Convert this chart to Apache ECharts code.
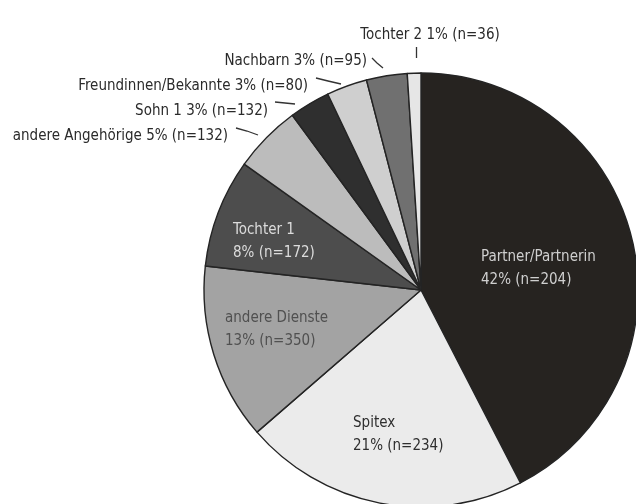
<!DOCTYPE html>
<html>
<head>
<meta charset="utf-8">
<script src="https://cdn.jsdelivr.net/npm/echarts@6/dist/echarts.min.js"></script>
<style>
  html,body{margin:0;padding:0;background:#fff;}
  #chart{width:636px;height:504px;}
</style>
</head>
<body>
<div id="chart"></div>
<script>
// Kategorien und Werte (Prozent), im Uhrzeigersinn ab 12 Uhr
var names = ['Partner/Partnerin', 'Spitex', 'andere Dienste', 'Tochter 1', 'andere Angehörige', 'Sohn 1', 'Freundinnen/Bekannte', 'Nachbarn', 'Tochter 2'];
var percents = [42, 21, 13, 8, 5, 3, 3, 3, 1];
var counts = [204, 234, 350, 172, 132, 132, 80, 95, 36];
var colors = ['#262320', '#ebebeb', '#a3a3a3', '#4d4d4d', '#bcbcbc', '#2f2f2f', '#cfcfcf', '#707070', '#e6e6e6'];

// Beschriftungen: innen zweizeilig, aussen einzeilig
var inside = [true, true, true, true, false, false, false, false, false];
var labelColors = ['#cfcfcf', '#2e2e2e', '#505050', '#dcdcdc', '#2a2a2a', '#2a2a2a', '#2a2a2a', '#2a2a2a', '#2a2a2a'];

// Lage der Beschriftungen (Pixel)
var labelPos = [
  {x: 481, y: 246, align: 'left'},
  {x: 353, y: 412, align: 'left'},
  {x: 225, y: 307, align: 'left'},
  {x: 233, y: 219, align: 'left'},
  {x: 228, y: 125, align: 'right', line: [[236, 128], [247, 131], [258, 135]]},
  {x: 268, y: 100, align: 'right', line: [[275, 102], [285, 103], [295, 104]]},
  {x: 308, y: 75, align: 'right', line: [[316, 78], [328, 81], [341, 84]]},
  {x: 367, y: 50, align: 'right', line: [[372, 58], [377, 63], [383, 68]]},
  {x: 430, y: 24, align: 'center', line: [[416.5, 47], [416.5, 52], [416.5, 58]]}
];

var data = [];
for (var i = 0; i < names.length; i++) {
  var txt = inside[i]
    ? names[i] + '\n' + percents[i] + '% (n=' + counts[i] + ')'
    : names[i] + ' ' + percents[i] + '% (n=' + counts[i] + ')';
  data.push({
    name: names[i],
    value: percents[i],
    itemStyle: {color: colors[i]},
    label: {
      formatter: txt,
      color: labelColors[i],
      align: labelPos[i].align
    },
    labelLine: {show: !inside[i]}
  });
}

var chart = echarts.init(document.getElementById('chart'), null, {renderer: 'canvas'});
chart.setOption({
  backgroundColor: '#fff',
  animation: false,
  series: [{
    type: 'pie',
    center: [421, 290],
    radius: 217,
    startAngle: 90,
    clockwise: true,
    avoidLabelOverlap: false,
    data: data,
    itemStyle: {borderColor: '#242424', borderWidth: 1.4},
    label: {
      show: true,
      position: 'outside',
      fontFamily: 'DejaVu Sans Condensed',
      fontSize: 15,
      lineHeight: 23
    },
    labelLine: {
      show: true,
      lineStyle: {color: '#333', width: 1.3}
    },
    labelLayout: function (p) {
      var lp = labelPos[p.dataIndex];
      var out = {x: lp.x, y: lp.y, align: lp.align, verticalAlign: 'top', hideOverlap: false};
      if (lp.line) out.labelLinePoints = lp.line;
      return out;
    }
  }]
});
</script>
</body>
</html>
